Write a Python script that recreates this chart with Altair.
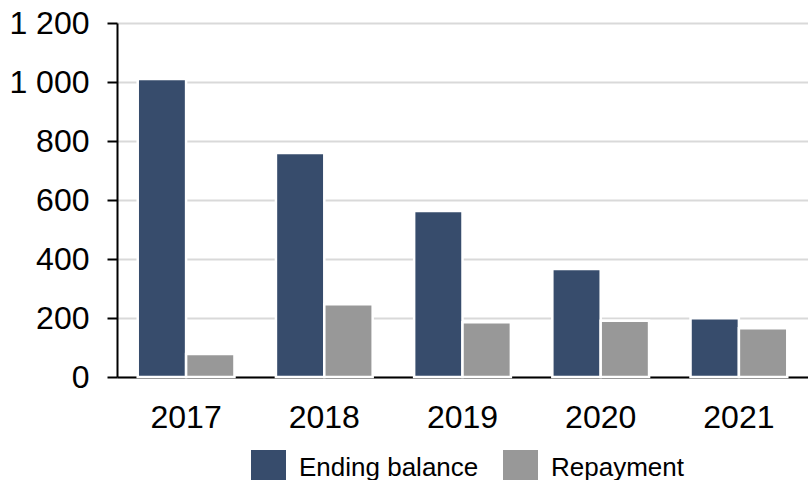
import altair as alt
import pandas as pd

years = ["2017", "2018", "2019", "2020", "2021"]
series = ["Ending balance", "Repayment"]
ending_balance = [1010, 759, 563, 366, 199]
repayment = [78, 247, 186, 191, 165]
colors = ["#374C6C", "#989898"]
y_ticks = [0, 200, 400, 600, 800, 1000, 1200]

rows = []
for i, y in enumerate(years):
    rows.append({"year": y, "series": series[0], "value": ending_balance[i]})
    rows.append({"year": y, "series": series[1], "value": repayment[i]})
df = pd.DataFrame(rows)

FONT = "Liberation Sans"

chart = alt.Chart(df).mark_bar(stroke="white", strokeWidth=2.5).encode(
    x=alt.X("year:N", sort=years, title=None,
            scale=alt.Scale(paddingInner=0.3, paddingOuter=0.15),
            axis=alt.Axis(labelAngle=0, labelFontSize=32, labelFont=FONT, labelColor="black",
                          ticks=False, tickSize=0, labelPadding=25, domainColor="black",
                          domainWidth=2, grid=False)),
    xOffset=alt.XOffset("series:N", sort=series, scale=alt.Scale(paddingInner=0, paddingOuter=0)),
    y=alt.Y("value:Q", title=None,
            scale=alt.Scale(domain=[0, 1200], nice=False),
            axis=alt.Axis(values=y_ticks, labelFontSize=32, labelFont=FONT, labelColor="black",
                          labelExpr="replace(format(datum.value, ','), ',', ' ')",
                          tickColor="black", tickWidth=2, tickSize=10, labelPadding=18,
                          domainColor="black", domainWidth=2,
                          gridColor="#d9d9d9", gridWidth=2)),
    color=alt.Color("series:N", sort=series, title=None,
                    scale=alt.Scale(domain=series, range=colors),
                    legend=alt.Legend(orient="none", legendX=134, legendY=427,
                                      direction="horizontal", symbolType="square",
                                      symbolSize=1225, symbolStrokeWidth=0,
                                      labelFontSize=26, labelFont=FONT, labelColor="black",
                                      labelLimit=0, labelOffset=13, columnPadding=24, padding=0)),
).properties(
    width=691, height=354,
    autosize=alt.AutoSizeParams(type="none"),
    padding={"left": 117, "top": 23, "right": 0, "bottom": 103},
).configure_view(stroke=None)

chart.save("out.html", embed_options={"renderer": "svg", "actions": False})
